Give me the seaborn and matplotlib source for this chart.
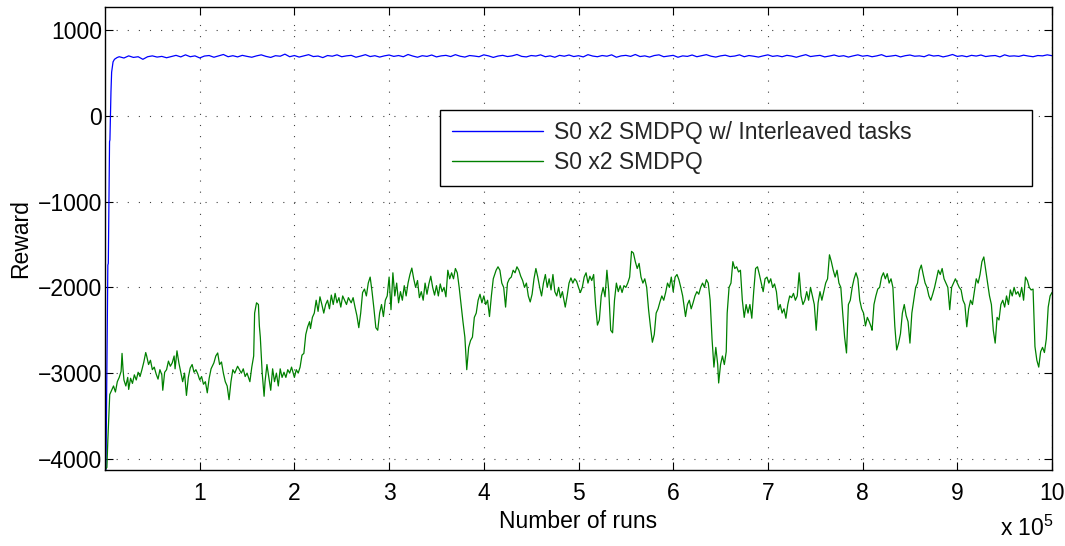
import numpy as np
import pandas as pd
import matplotlib
matplotlib.use("Agg")
import matplotlib.pyplot as plt
import seaborn as sns

# Number of runs (in units of 1e5) and smoothed reward for each learner
interleaved_runs = [
    0.00, 0.01, 0.03, 0.035, 0.048, 0.052, 0.063, 0.07, 0.085, 0.10, 0.127, 0.15,
    0.20, 0.25, 0.30, 0.35, 0.40, 0.45, 0.50, 0.55, 0.60, 0.65, 0.70, 0.75,
    0.80, 0.85, 0.90, 0.95, 1.00, 1.05, 1.10, 1.15, 1.20, 1.25, 1.30, 1.35,
    1.40, 1.45, 1.50, 1.55, 1.60, 1.65, 1.70, 1.75, 1.80, 1.85, 1.90, 1.95,
    2.00, 2.05, 2.10, 2.15, 2.20, 2.25, 2.30, 2.35, 2.40, 2.45, 2.50, 2.55,
    2.60, 2.65, 2.70, 2.75, 2.80, 2.85, 2.90, 2.95, 3.00, 3.05, 3.10, 3.15,
    3.20, 3.25, 3.30, 3.35, 3.40, 3.45, 3.50, 3.55, 3.60, 3.65, 3.70, 3.75,
    3.80, 3.85, 3.90, 3.95, 4.00, 4.05, 4.10, 4.15, 4.20, 4.25, 4.30, 4.35,
    4.40, 4.45, 4.50, 4.55, 4.60, 4.65, 4.70, 4.75, 4.80, 4.85, 4.90, 4.95,
    5.00, 5.05, 5.10, 5.15, 5.20, 5.25, 5.30, 5.35, 5.40, 5.45, 5.50, 5.55,
    5.60, 5.65, 5.70, 5.75, 5.80, 5.85, 5.90, 5.95, 6.00, 6.05, 6.10, 6.15,
    6.20, 6.25, 6.30, 6.35, 6.40, 6.45, 6.50, 6.55, 6.60, 6.65, 6.70, 6.75,
    6.80, 6.85, 6.90, 6.95, 7.00, 7.05, 7.10, 7.15, 7.20, 7.25, 7.30, 7.35,
    7.40, 7.45, 7.50, 7.55, 7.60, 7.65, 7.70, 7.75, 7.80, 7.85, 7.90, 7.95,
    8.00, 8.05, 8.10, 8.15, 8.20, 8.25, 8.30, 8.35, 8.40, 8.45, 8.50, 8.55,
    8.60, 8.65, 8.70, 8.75, 8.80, 8.85, 8.90, 8.95, 9.00, 9.05, 9.10, 9.15,
    9.20, 9.25, 9.30, 9.35, 9.40, 9.45, 9.50, 9.55, 9.60, 9.65, 9.70, 9.75,
    9.80, 9.85, 9.90, 9.95, 10.00,
]
interleaved_reward = [
    -4130, -4130, -1740, -1720, -300, -280, 280, 510, 630, 660, 680, 690,
    675, 700, 682, 690, 660, 690, 700, 686, 694, 678, 692, 706,
    688, 712, 690, 700, 676, 698, 704, 684, 700, 716, 690, 702,
    688, 706, 694, 684, 700, 712, 694, 682, 702, 696, 720, 690,
    704, 686, 700, 714, 692, 698, 680, 704, 696, 712, 690, 700,
    706, 684, 698, 714, 692, 702, 686, 700, 710, 694, 704, 690,
    716, 698, 684, 702, 694, 710, 688, 700, 706, 692, 714, 696,
    686, 704, 698, 690, 712, 700, 682, 698, 706, 692, 700, 716,
    694, 688, 704, 698, 712, 690, 700, 684, 706, 696, 710, 692,
    702, 688, 714, 698, 690, 704, 696, 712, 684, 700, 706, 694,
    716, 692, 700, 686, 704, 712, 690, 698, 706, 684, 700, 694,
    710, 690, 702, 714, 696, 686, 700, 708, 692, 698, 712, 690,
    704, 696, 686, 700, 712, 694, 702, 690, 706, 698, 684, 700,
    714, 692, 700, 706, 688, 698, 710, 694, 702, 686, 700, 712,
    696, 704, 690, 700, 714, 692, 698, 706, 688, 702, 710, 696,
    700, 690, 712, 698, 704, 688, 700, 716, 694, 702, 690, 706,
    698, 710, 692, 700, 704, 688, 712, 696, 700, 694, 708, 698,
    690, 704, 700, 712, 702,
]

plain_runs = [
    0.00, 0.02, 0.03, 0.05, 0.07, 0.09, 0.11, 0.13, 0.15, 0.17, 0.18, 0.19,
    0.20, 0.22, 0.24, 0.25, 0.27, 0.29, 0.31, 0.33, 0.35, 0.37, 0.39, 0.41,
    0.43, 0.44, 0.46, 0.48, 0.50, 0.52, 0.54, 0.56, 0.58, 0.60, 0.61, 0.63,
    0.65, 0.67, 0.69, 0.71, 0.73, 0.74, 0.76, 0.78, 0.80, 0.82, 0.84, 0.86,
    0.88, 0.90, 0.92, 0.94, 0.96, 0.98, 1.00, 1.02, 1.04, 1.06, 1.08, 1.10,
    1.12, 1.15, 1.17, 1.19, 1.21, 1.23, 1.25, 1.27, 1.29, 1.31, 1.33, 1.35,
    1.37, 1.40, 1.42, 1.44, 1.46, 1.48, 1.50, 1.53, 1.55, 1.57, 1.58, 1.60,
    1.62, 1.63, 1.64, 1.65, 1.66, 1.68, 1.69, 1.71, 1.73, 1.75, 1.77, 1.79,
    1.81, 1.83, 1.85, 1.87, 1.89, 1.91, 1.93, 1.95, 1.97, 2.00, 2.02, 2.04,
    2.06, 2.08, 2.10, 2.12, 2.14, 2.16, 2.17, 2.19, 2.21, 2.23, 2.25, 2.27,
    2.29, 2.31, 2.33, 2.35, 2.37, 2.39, 2.41, 2.43, 2.45, 2.47, 2.49, 2.51,
    2.53, 2.55, 2.57, 2.60, 2.62, 2.64, 2.66, 2.68, 2.70, 2.72, 2.74, 2.76,
    2.78, 2.80, 2.82, 2.84, 2.86, 2.88, 2.90, 2.92, 2.94, 2.96, 2.98, 3.00,
    3.02, 3.04, 3.06, 3.08, 3.10, 3.12, 3.14, 3.16, 3.18, 3.20, 3.22, 3.24,
    3.26, 3.28, 3.30, 3.32, 3.34, 3.36, 3.38, 3.40, 3.42, 3.44, 3.46, 3.48,
    3.50, 3.52, 3.54, 3.56, 3.58, 3.60, 3.62, 3.64, 3.66, 3.68, 3.70, 3.72,
    3.74, 3.76, 3.78, 3.80, 3.82, 3.84, 3.86, 3.88, 3.90, 3.92, 3.94, 3.96,
    3.98, 4.00, 4.02, 4.04, 4.06, 4.08, 4.10, 4.13, 4.15, 4.17, 4.19, 4.21,
    4.23, 4.25, 4.27, 4.29, 4.31, 4.33, 4.35, 4.37, 4.39, 4.41, 4.43, 4.45,
    4.47, 4.49, 4.51, 4.53, 4.55, 4.57, 4.59, 4.61, 4.63, 4.65, 4.67, 4.69,
    4.71, 4.73, 4.75, 4.77, 4.79, 4.81, 4.83, 4.86, 4.88, 4.90, 4.92, 4.94,
    4.96, 4.98, 5.00, 5.02, 5.04, 5.06, 5.08, 5.10, 5.12, 5.14, 5.16, 5.18,
    5.20, 5.22, 5.24, 5.26, 5.28, 5.30, 5.32, 5.34, 5.36, 5.38, 5.40, 5.42,
    5.44, 5.46, 5.48, 5.50, 5.52, 5.54, 5.56, 5.58, 5.60, 5.62, 5.64, 5.66,
    5.68, 5.70, 5.72, 5.74, 5.76, 5.78, 5.80, 5.82, 5.84, 5.86, 5.88, 5.90,
    5.92, 5.94, 5.96, 5.98, 6.00, 6.02, 6.04, 6.06, 6.08, 6.10, 6.13, 6.15,
    6.17, 6.19, 6.21, 6.23, 6.25, 6.27, 6.29, 6.31, 6.33, 6.35, 6.37, 6.39,
    6.41, 6.43, 6.45, 6.47, 6.48, 6.50, 6.52, 6.54, 6.56, 6.57, 6.59, 6.61,
    6.63, 6.65, 6.67, 6.69, 6.71, 6.73, 6.75, 6.77, 6.79, 6.81, 6.83, 6.85,
    6.87, 6.89, 6.91, 6.93, 6.95, 6.97, 6.99, 7.01, 7.03, 7.05, 7.07, 7.09,
    7.11, 7.13, 7.15, 7.17, 7.19, 7.21, 7.23, 7.25, 7.27, 7.29, 7.31, 7.33,
    7.35, 7.37, 7.39, 7.41, 7.43, 7.45, 7.47, 7.49, 7.51, 7.53, 7.55, 7.57,
    7.59, 7.61, 7.63, 7.65, 7.67, 7.69, 7.71, 7.73, 7.75, 7.77, 7.79, 7.81,
    7.83, 7.85, 7.87, 7.89, 7.91, 7.93, 7.95, 7.97, 7.99, 8.01, 8.03, 8.05,
    8.07, 8.09, 8.10, 8.12, 8.14, 8.16, 8.18, 8.20, 8.22, 8.24, 8.26, 8.28,
    8.30, 8.32, 8.34, 8.36, 8.38, 8.40, 8.42, 8.44, 8.46, 8.48, 8.50, 8.52,
    8.54, 8.56, 8.58, 8.60, 8.62, 8.64, 8.66, 8.68, 8.70, 8.72, 8.74, 8.76,
    8.78, 8.80, 8.82, 8.84, 8.86, 8.88, 8.90, 8.92, 8.94, 8.96, 8.98, 9.00,
    9.02, 9.04, 9.06, 9.08, 9.10, 9.12, 9.14, 9.16, 9.18, 9.20, 9.22, 9.24,
    9.26, 9.28, 9.30, 9.32, 9.34, 9.36, 9.38, 9.40, 9.42, 9.44, 9.46, 9.48,
    9.50, 9.52, 9.54, 9.56, 9.58, 9.60, 9.62, 9.64, 9.66, 9.68, 9.70, 9.72,
    9.74, 9.76, 9.78, 9.80, 9.82, 9.84, 9.86, 9.88, 9.90, 9.92, 9.94, 9.96,
    9.98, 10.00,
]
plain_reward = [
    -4130, -4100, -3780, -3250, -3200, -3150, -3220, -3100, -3050, -2980, -2770, -2950,
    -3080, -3150, -3050, -3190, -3060, -3120, -3020, -3080, -2990, -3040, -2960, -2870,
    -2760, -2800, -2900, -2850, -2960, -2930, -3010, -3070, -2960, -3020, -3200, -2990,
    -2960, -2860, -2920, -2880, -2800, -2950, -2740, -2880, -2990, -3100, -3000, -3260,
    -3050, -2940, -2900, -2990, -2960, -3010, -3080, -3040, -3130, -3100, -3230, -3060,
    -2950, -2880, -2800, -2765, -2900, -2870, -3000, -3100, -3150, -3310, -3100, -2960,
    -3000, -2920, -2960, -3000, -2950, -3040, -3000, -3100, -2930, -2800, -2300, -2180,
    -2200, -2450, -2580, -2800, -3000, -3270, -3100, -2900, -3050, -3200, -2950, -3100,
    -3000, -3150, -2950, -3050, -2990, -3050, -2960, -3000, -2930, -3050, -2960, -3000,
    -2930, -2790, -2770, -2550, -2460, -2400, -2480, -2350, -2300, -2150, -2280, -2110,
    -2200, -2300, -2200, -2150, -2250, -2090, -2200, -2070, -2180, -2120, -2230, -2100,
    -2150, -2200, -2120, -2180, -2120, -2230, -2330, -2470, -2300, -2060, -2020, -2100,
    -1950, -1880, -2050, -2250, -2470, -2500, -2300, -2200, -2340, -2150, -2100, -1880,
    -2260, -1830, -2100, -1950, -2180, -2050, -2150, -1980, -2100, -1950, -1850, -1775,
    -1900, -2000, -1920, -2120, -2050, -2150, -1950, -2080, -1960, -1870, -2000, -2090,
    -1980, -2100, -1960, -2050, -2000, -2110, -1800, -1900, -1830, -1900, -1780, -1830,
    -2000, -2200, -2400, -2580, -2960, -2700, -2620, -2580, -2350, -2300, -2150, -2080,
    -2180, -2100, -2200, -2150, -2340, -2100, -1900, -1800, -1760, -1800, -1950, -2000,
    -2230, -1950, -1900, -1880, -1800, -1830, -1760, -1800, -1870, -1920, -2000, -1950,
    -2100, -2170, -2080, -1900, -1780, -1880, -2000, -2100, -1950, -1850, -2000, -1900,
    -2030, -1850, -2050, -2100, -2000, -2120, -2050, -2230, -2100, -1950, -1890, -1950,
    -1900, -1930, -2000, -2060, -2000, -1880, -1830, -1950, -1870, -1920, -1850, -2200,
    -2440, -2380, -2100, -2000, -2110, -1800, -2050, -2500, -2530, -2150, -1950, -2050,
    -1980, -2060, -1980, -2000, -1950, -1880, -1580, -1600, -1700, -1780, -1720, -1880,
    -1950, -1900, -2000, -2260, -2460, -2640, -2550, -2300, -2250, -2170, -2100, -2150,
    -2060, -1950, -2000, -1880, -2050, -1880, -1850, -1910, -2000, -2100, -2340, -2200,
    -2150, -2250, -2180, -2100, -2050, -2080, -2000, -1950, -2000, -1910, -1950, -2150,
    -2600, -2930, -2700, -2900, -3115, -2900, -2800, -2900, -2750, -2300, -2000, -1950,
    -1700, -1780, -1760, -1820, -1800, -2150, -2350, -2200, -2300, -2200, -2360, -2050,
    -1780, -1760, -1850, -1950, -2050, -1900, -1880, -1950, -1900, -2000, -1960, -2050,
    -2260, -2200, -2300, -2250, -2360, -2200, -2100, -2120, -2070, -2150, -2100, -1830,
    -2100, -2200, -2150, -2050, -2150, -2000, -2100, -2200, -2500, -2180, -2050, -2150,
    -2050, -1950, -1900, -1620, -1700, -1800, -1880, -1800, -1950, -2000, -2300, -2580,
    -2765, -2200, -2150, -2000, -1900, -1830, -1900, -2150, -2250, -2300, -2450, -2350,
    -2400, -2460, -2500, -2200, -2100, -2020, -2000, -1880, -1830, -1900, -1840, -1950,
    -1900, -2000, -2450, -2730, -2650, -2540, -2300, -2200, -2330, -2400, -2650, -2300,
    -2150, -2000, -1950, -1800, -1740, -1850, -1950, -2000, -2100, -2150, -2080, -2000,
    -1900, -1800, -1850, -1780, -1900, -1950, -2000, -2260, -2000, -1950, -1900, -1950,
    -2000, -2030, -2150, -2200, -2460, -2250, -2150, -2200, -2050, -1900, -1950, -1850,
    -1700, -1645, -1800, -1950, -2100, -2200, -2500, -2650, -2350, -2380, -2200, -2150,
    -2230, -2100, -2200, -2030, -2100, -2000, -2080, -2050, -2110, -2000, -2150, -1880,
    -1920, -2000, -2030, -2020, -2690, -2850, -2930, -2750, -2700, -2760, -2600, -2230,
    -2100, -2060,
]

series_names = ["S0 x2 SMDPQ w/ Interleaved tasks", "S0 x2 SMDPQ"]
series_colors = ["#0000ff", "#008000"]
x_ticks = [1, 2, 3, 4, 5, 6, 7, 8, 9, 10]
y_ticks = [-4000, -3000, -2000, -1000, 0, 1000]

df = pd.concat([
    pd.DataFrame({"runs": interleaved_runs, "reward": interleaved_reward,
                  "method": series_names[0]}),
    pd.DataFrame({"runs": plain_runs, "reward": plain_reward,
                  "method": series_names[1]}),
], ignore_index=True)

sns.set_theme(style="white")
plt.rcParams["font.family"] = ["Liberation Sans", "DejaVu Sans"]
plt.rcParams["mathtext.fontset"] = "custom"
plt.rcParams["mathtext.rm"] = "Liberation Sans"

FS = 16.5
fig = plt.figure(figsize=(10.65, 5.46), dpi=100)
ax = fig.add_axes([105 / 1065, 1 - 470 / 546, 947 / 1065, 463 / 546])

sns.lineplot(data=df, x="runs", y="reward", hue="method",
             hue_order=series_names, palette=series_colors,
             estimator=None, sort=False, linewidth=0.9, ax=ax)

ax.set_xlim(0, 10)
ax.set_ylim(-4130, 1270)
ax.set_xticks(x_ticks)
ax.set_yticks(y_ticks)
ax.set_xticklabels([str(t) for t in x_ticks])
ax.set_yticklabels([str(t).replace("-", "\u2212") for t in y_ticks])

ax.grid(True, color="black", linestyle=(0, (1, 9)), linewidth=0.8, alpha=0.75)
for s in ax.spines.values():
    s.set_visible(True)
    s.set_color("black")
    s.set_linewidth(1.0)
ax.tick_params(direction="in", length=6, width=0.8, color="black",
               top=True, right=True, bottom=True, left=True,
               labelsize=FS, labelcolor="black")
ax.tick_params(axis="x", pad=9)
ax.tick_params(axis="y", pad=2)

ax.set_xlabel("Number of runs", fontsize=FS, color="black", labelpad=3)
ax.set_ylabel("Reward", fontsize=FS, color="black", labelpad=4)

fig.text(1054 / 1065, 1 - 528 / 546, r"x 10$^{\mathregular{5}}$",
         ha="right", va="center", fontsize=FS, color="black")

leg = ax.legend(loc="upper left", bbox_to_anchor=(0.354, 0.62, 0.625, 0.1575),
                mode="expand", fontsize=FS, frameon=True, fancybox=False,
                edgecolor="black", framealpha=1, handlelength=4.0,
                handletextpad=0.45, borderpad=0.5, labelspacing=0.3,
                borderaxespad=0)
leg.get_frame().set_linewidth(1.0)
for line in leg.get_lines():
    line.set_linewidth(1.0)

fig.savefig("out.png", dpi=100)
